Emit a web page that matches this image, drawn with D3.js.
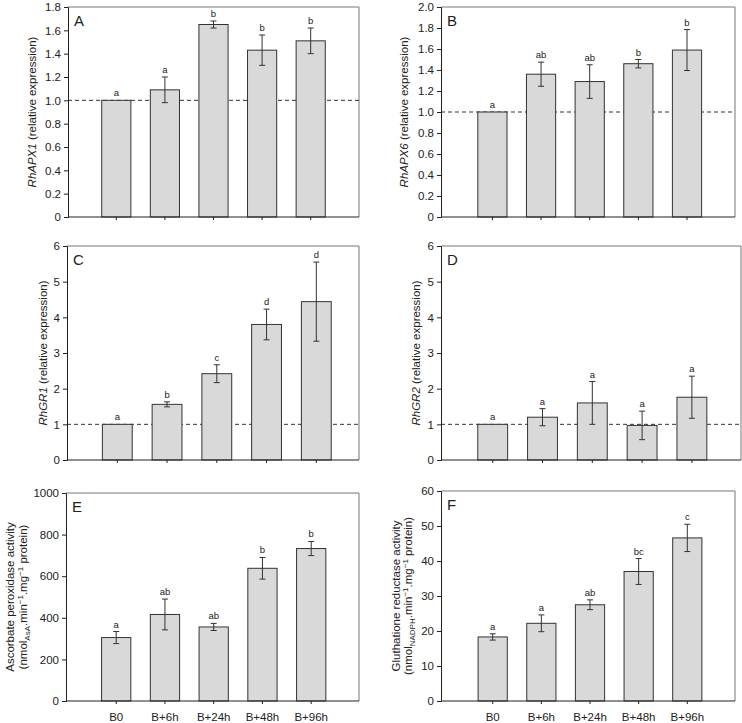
<!DOCTYPE html>
<html><head><meta charset="utf-8">
<script src="https://cdn.jsdelivr.net/npm/d3@7/dist/d3.min.js"></script>
<style>
body{margin:0;background:#fff;}
svg text{font-family:"Liberation Sans",Arial,sans-serif;fill:#222;}
</style></head>
<body><svg id="chart" width="742" height="723"></svg>
<script>
const categories = ["B0","B+6h","B+24h","B+48h","B+96h"];

const apx1Mean = [1.0, 1.09, 1.65, 1.43, 1.51];
const apx1Err  = [0, 0.11, 0.03, 0.13, 0.11];
const apx1Sig  = ["a","a","b","b","b"];

const apx6Mean = [1.0, 1.36, 1.29, 1.46, 1.59];
const apx6Err  = [0, 0.115, 0.16, 0.04, 0.195];
const apx6Sig  = ["a","ab","ab","b","b"];

const gr1Mean = [1.0, 1.56, 2.42, 3.80, 4.44];
const gr1Err  = [0, 0.07, 0.25, 0.43, 1.11];
const gr1Sig  = ["a","b","c","d","d"];

const gr2Mean = [1.0, 1.20, 1.60, 0.97, 1.76];
const gr2Err  = [0, 0.24, 0.60, 0.40, 0.59];
const gr2Sig  = ["a","a","a","a","a"];

const apxActMean = [305, 416, 356, 638, 733];
const apxActErr  = [29, 74, 17, 52, 34];
const apxActSig  = ["a","ab","ab","b","b"];

const grActMean = [18.3, 22.2, 27.5, 37.0, 46.6];
const grActErr  = [0.9, 2.4, 1.4, 3.7, 3.9];
const grActSig  = ["a","a","ab","bc","c"];

const ticksA = [0,0.2,0.4,0.6,0.8,1.0,1.2,1.4,1.6,1.8];
const ticksB = [0,0.2,0.4,0.6,0.8,1.0,1.2,1.4,1.6,1.8,2.0];
const ticksCD = [0,1,2,3,4,5,6];
const ticksE = [0,200,400,600,800,1000];
const ticksF = [0,10,20,30,40,50,60];

const svg = d3.select("#chart");

const panels = [
  {id:"A", mean:apx1Mean, err:apx1Err, sig:apx1Sig, ticks:ticksA, fmt:d=>d===0?"0":d.toFixed(1), ref:1,
   L:68, R:359, T:7, B:217, c0:116.3, s:48.6, gene:"RhAPX1", labX:32},
  {id:"B", mean:apx6Mean, err:apx6Err, sig:apx6Sig, ticks:ticksB, fmt:d=>d===0?"0":d.toFixed(1), ref:1,
   L:441, R:735, T:7, B:217, c0:492.4, s:48.65, gene:"RhAPX6", labX:404},
  {id:"C", mean:gr1Mean, err:gr1Err, sig:gr1Sig, ticks:ticksCD, fmt:d=>String(d), ref:1,
   L:67, R:359, T:246, B:460, c0:117.3, s:49.75, gene:"RhGR1", labX:43},
  {id:"D", mean:gr2Mean, err:gr2Err, sig:gr2Sig, ticks:ticksCD, fmt:d=>String(d), ref:1,
   L:441, R:741, T:246, B:460, c0:492.7, s:49.8, gene:"RhGR2", labX:416},
  {id:"E", mean:apxActMean, err:apxActErr, sig:apxActSig, ticks:ticksE, fmt:d=>String(d), ref:null,
   L:66, R:359, T:493, B:701, c0:116.2, s:48.75, lines:["Ascorbate peroxidase activity", ["(nmol","AsA",".min","−1",".mg","−1"," protein)"]], labX:[10,23], xlabels:true},
  {id:"F", mean:grActMean, err:grActErr, sig:grActSig, ticks:ticksF, fmt:d=>String(d), ref:null,
   L:441, R:735, T:491, B:701, c0:492.7, s:48.65, lines:["Gluthatione reductase activity", ["(nmol","NADPH",".min","−1",".mg","−1"," protein)"]], labX:[396,408], xlabels:true}
];

panels.forEach(p => {
  const g = svg.append("g");
  const y = d3.scaleLinear().domain([p.ticks[0], p.ticks[p.ticks.length-1]]).range([p.B, p.T]);
  const x = d3.scaleBand().domain(categories)
    .range([p.c0 - p.s/2, p.c0 + 4.5*p.s]).paddingInner(0.4).paddingOuter(0.2);

  // frame top/right
  g.append("path").attr("d", `M${p.L},${p.T}H${p.R}V${p.B}`)
    .attr("fill","none").attr("stroke","#777").attr("stroke-width",1);

  // reference dashed line
  if (p.ref !== null) {
    g.append("line").attr("x1",p.L).attr("x2",p.R).attr("y1",y(p.ref)).attr("y2",y(p.ref))
      .attr("stroke","#333").attr("stroke-width",1).attr("stroke-dasharray","4,3");
  }

  // bars
  const data = categories.map((c,i)=>({c, m:p.mean[i], e:p.err[i], s:p.sig[i]}));
  g.selectAll("rect.bar").data(data).join("rect").attr("class","bar")
    .attr("x", d=>x(d.c)).attr("width", x.bandwidth())
    .attr("y", d=>y(d.m)).attr("height", d=>y(0)-y(d.m))
    .attr("fill","#d9d9d9").attr("stroke","#333").attr("stroke-width",1);

  // error bars
  const eb = data.filter(d=>d.e>0);
  const cx = d=>x(d.c)+x.bandwidth()/2;
  g.selectAll("path.err").data(eb).join("path").attr("class","err")
    .attr("d", d=>{const a=y(d.m+d.e), b=y(d.m-d.e), c=cx(d);
      return `M${c-3},${a}H${c+3}M${c},${a}V${b}M${c-3},${b}H${c+3}`;})
    .attr("fill","none").attr("stroke","#333").attr("stroke-width",1);

  // significance letters
  g.selectAll("text.sig").data(data).join("text").attr("class","sig")
    .attr("x", cx).attr("y", d=>y(d.m+d.e)-4)
    .attr("text-anchor","middle").attr("font-size",9.5).text(d=>d.s);

  // y axis
  const ya = d3.axisLeft(y).tickValues(p.ticks).tickFormat(p.fmt).tickSize(4).tickPadding(3);
  const yg = g.append("g").attr("transform",`translate(${p.L},0)`).call(ya);
  yg.select(".domain").attr("stroke","#222");
  yg.selectAll(".tick line").attr("stroke","#222");
  yg.selectAll("text").attr("font-size",11.5).attr("font-family","Liberation Sans, Arial, sans-serif").attr("fill","#222");

  // x axis
  const xa = d3.axisBottom(x).tickSize(3).tickSizeOuter(0).tickPadding(9)
    .tickFormat(p.xlabels ? (d=>d) : (()=>""));
  const xg = g.append("g").attr("transform",`translate(0,${p.B})`).call(xa);
  xg.select(".domain").attr("d", `M${p.L},0H${p.R}`).attr("stroke","#222");
  xg.selectAll(".tick line").attr("stroke","#222");
  xg.selectAll("text").attr("font-size",11.5).attr("font-family","Liberation Sans, Arial, sans-serif").attr("fill","#222");

  // panel letter
  g.append("text").attr("x",p.L+6).attr("y",p.T+19).attr("font-size",15).text(p.id);

  // y label
  const cy = (p.T+p.B)/2;
  if (p.gene) {
    const t = g.append("text").attr("transform",`translate(${p.labX+4},${cy}) rotate(-90)`)
      .attr("text-anchor","middle").attr("font-size",11.5);
    t.append("tspan").attr("font-style","italic").text(p.gene);
    t.append("tspan").text(" (relative expression)");
  } else {
    g.append("text").attr("transform",`translate(${p.labX[0]+4},${cy}) rotate(-90)`)
      .attr("text-anchor","middle").attr("font-size",11.5).text(p.lines[0]);
    const t = g.append("text").attr("transform",`translate(${p.labX[1]+4},${cy}) rotate(-90)`)
      .attr("text-anchor","middle").attr("font-size",11.5);
    const parts = p.lines[1];
    parts.forEach((s,i)=>{
      const ts = t.append("tspan").text(s);
      if (i===1) ts.attr("font-size",8).attr("dy",2.5);
      else if (i===2) ts.attr("dy",-2.5);
      else if (i===3) ts.attr("font-size",8).attr("dy",-4);
      else if (i===4) ts.attr("dy",4);
      else if (i===5) ts.attr("font-size",8).attr("dy",-4);
      else if (i===6) ts.attr("dy",4);
    });
  }
});
</script></body></html>
